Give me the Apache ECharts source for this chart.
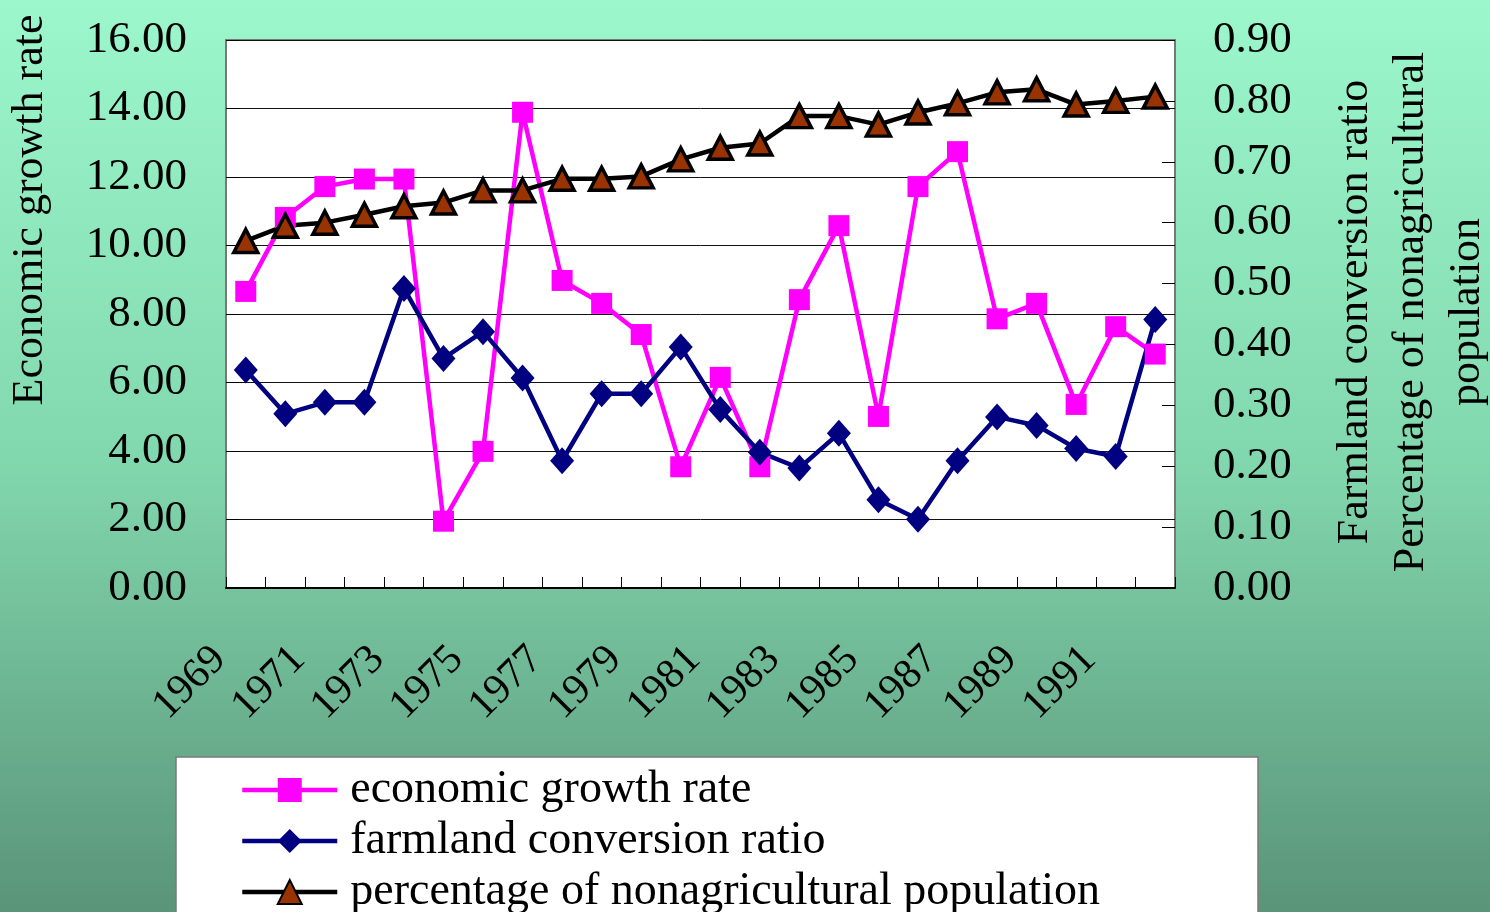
<!DOCTYPE html>
<html>
<head>
<meta charset="utf-8">
<script src="https://cdn.jsdelivr.net/npm/echarts@6/dist/echarts.min.js"></script>
<style>html,body{margin:0;padding:0;overflow:hidden;} #c{width:1490px;height:912px;}</style>
</head>
<body>
<div id="c"></div>
<script>
const years = ['1969','1970','1971','1972','1973','1974','1975','1976','1977','1978','1979','1980',
               '1981','1982','1983','1984','1985','1986','1987','1988','1989','1990','1991','1992'];
const econGrowth = [8.66,10.82,11.72,11.94,11.94,1.95,3.99,13.89,8.98,8.31,7.40,3.54,
                    6.15,3.54,8.42,10.58,5.01,11.72,12.74,7.86,8.31,5.36,7.63,6.83];
const farmlandRatio = [0.358,0.286,0.305,0.305,0.492,0.377,0.421,0.345,0.209,0.319,0.319,0.396,
                       0.293,0.223,0.197,0.254,0.145,0.113,0.209,0.281,0.267,0.229,0.216,0.441];
const nonagriPct = [0.570,0.595,0.600,0.613,0.627,0.633,0.653,0.653,0.672,0.672,0.676,0.704,
                    0.723,0.730,0.775,0.775,0.761,0.781,0.796,0.814,0.819,0.794,0.800,0.807];
const seriesNames = ['economic growth rate','farmland conversion ratio','percentage of nonagricultural population'];
const leftTitle = 'Economic growth rate';
const rightTitle = 'Farmland conversion ratio\nPercentage of nonagricultural\npopulation';

const FONT = 'Liberation Serif';
const chart = echarts.init(document.getElementById('c'), null, {renderer:'canvas'});
chart.setOption({
  animation: false,
  backgroundColor: {type:'linear', x:0, y:0, x2:0, y2:1,
    colorStops:[{offset:0,color:'#9cf7cc'},{offset:0.5,color:'#82d8ae'},{offset:1,color:'#5a9479'}]},
  grid: {left:226, right:315, top:40, bottom:324, show:true, backgroundColor:'#ffffff',
         borderColor:'#787878', borderWidth:2},
  graphic: [
    {type:'rect', shape:{x:176, y:757, width:1082, height:200}, style:{fill:'#ffffff', stroke:'#7a7a7a', lineWidth:1.5}},
    {type:'text', x:30, y:210, rotation:Math.PI/2,
     style:{text:leftTitle, font:'44px "Liberation Serif"', fill:'#000', align:'center', verticalAlign:'middle'}},
    {type:'text', x:1411, y:312, rotation:Math.PI/2,
     style:{text:rightTitle, font:'44px "Liberation Serif"', fill:'#000', align:'center', verticalAlign:'middle', lineHeight:56}}
  ],
  legend: {
    orient:'vertical', left:240, top:767, padding:0, itemGap:5, height:160,
    itemWidth:95, itemHeight:30,
    data: seriesNames,
    lineStyle:{width:4.5},
    textStyle:{fontFamily:FONT, fontSize:46, color:'#000', lineHeight:40, padding:[0,0,0,8]}
  },
  xAxis: {
    type:'category', data:years, boundaryGap:true,
    axisLine:{show:true, lineStyle:{color:'#000', width:2}},
    axisTick:{show:true, inside:true, length:11, interval:0, lineStyle:{color:'#000', width:1}},
    axisLabel:{interval:1, rotate:45, margin:39, padding:[0,37,0,0],
               fontFamily:FONT, fontSize:42, color:'#000'},
    splitLine:{show:false}
  },
  yAxis: [
    {type:'value', min:0, max:16, interval:2, position:'left',
     axisLine:{show:false},
     axisTick:{show:true, inside:true, length:13, lineStyle:{color:'#000'}},
     axisLabel:{margin:39, fontFamily:FONT, fontSize:45, color:'#000', padding:[9,0,0,0],
                formatter:v=>v.toFixed(2)},
     splitLine:{show:true, lineStyle:{color:'#111', width:1}}},
    {type:'value', min:0, max:0.9, interval:0.1, position:'right',
     axisLine:{show:false},
     axisTick:{show:true, inside:true, length:13, lineStyle:{color:'#000'}},
     axisLabel:{margin:38, fontFamily:FONT, fontSize:45, color:'#000',
                formatter:v=>v.toFixed(2)},
     splitLine:{show:false}}
  ],
  series: [
    {name:seriesNames[0], type:'line', yAxisIndex:0, data:econGrowth, showAllSymbol:true,
     symbol:'rect', symbolSize:21, color:'#ff00ff',
     lineStyle:{color:'#ff00ff', width:4.5}, itemStyle:{color:'#ff00ff'}},
    {name:seriesNames[1], type:'line', yAxisIndex:1, data:farmlandRatio, showAllSymbol:true,
     symbol:'diamond', symbolSize:[24,27], color:'#000080',
     lineStyle:{color:'#000080', width:4.5}, itemStyle:{color:'#000080'}},
    {name:seriesNames[2], type:'line', yAxisIndex:1, data:nonagriPct, showAllSymbol:true,
     symbol:'triangle', symbolSize:[24,23], color:'#993300',
     lineStyle:{color:'#000000', width:4.5},
     itemStyle:{color:'#993300', borderColor:'#000', borderWidth:3.5}}
  ]
});
</script>
</body>
</html>
